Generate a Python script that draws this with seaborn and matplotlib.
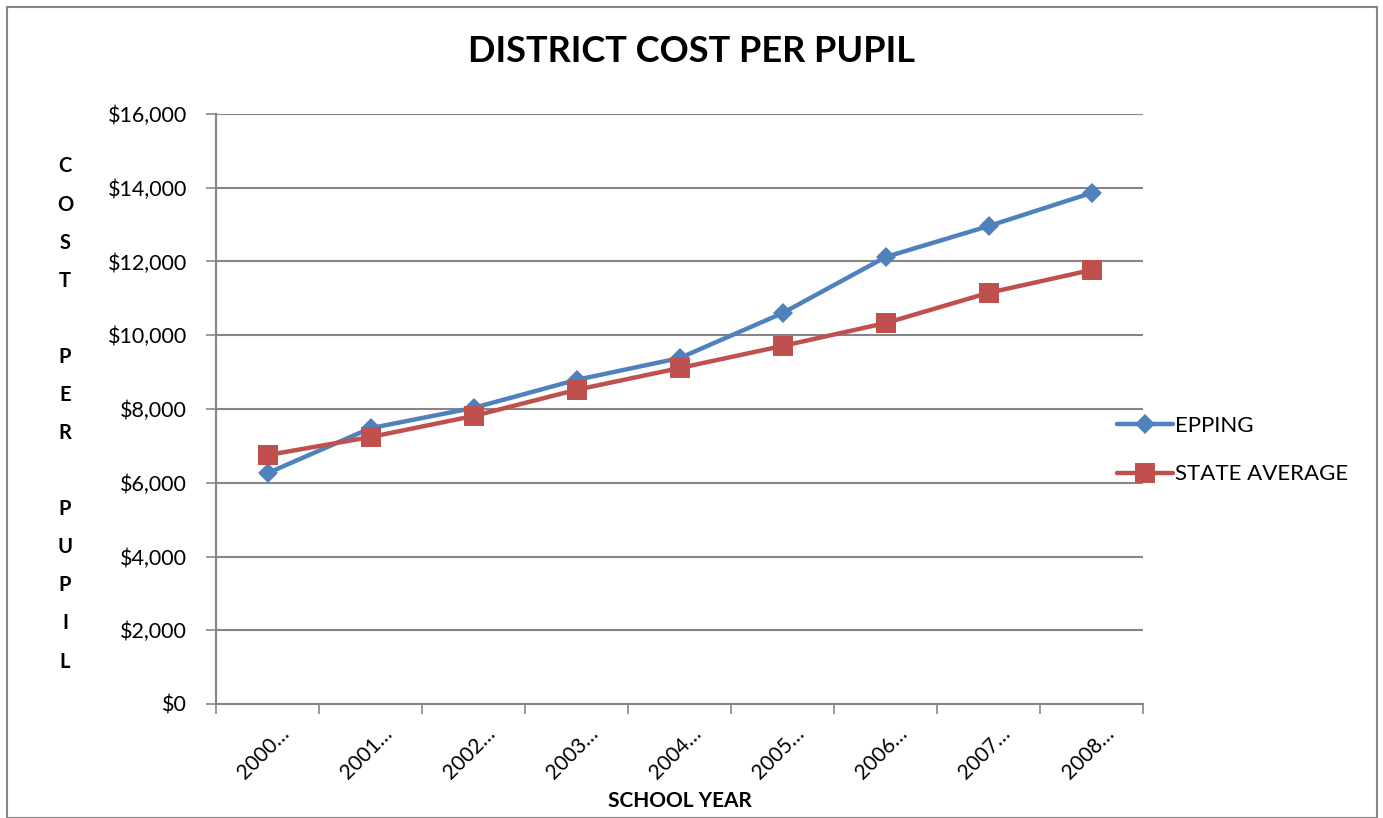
import pandas as pd
import matplotlib.pyplot as plt
import matplotlib.ticker as mticker
import matplotlib.transforms as mtransforms
from matplotlib.patches import Rectangle
import seaborn as sns

plt.switch_backend('Agg')

# dados
anos = ['2000…', '2001…', '2002…', '2003…', '2004…', '2005…', '2006…', '2007…', '2008…']
epping = [6260, 7480, 8030, 8790, 9380, 10600, 12120, 12960, 13860]
media_estadual = [6750, 7240, 7810, 8520, 9110, 9710, 10330, 11150, 11770]

df = pd.DataFrame({
    'ano': anos * 2,
    'custo': epping + media_estadual,
    'serie': ['EPPING'] * len(anos) + ['STATE AVERAGE'] * len(anos),
})
df['x'] = list(range(len(anos))) * 2

sns.set_style('white')
plt.rcParams['font.family'] = ['Lato', 'DejaVu Sans']
plt.rcParams['text.color'] = 'black'
plt.rcParams['xtick.labelcolor'] = 'black'
plt.rcParams['ytick.labelcolor'] = 'black'
plt.rcParams['axes.labelcolor'] = 'black'

fig = plt.figure(figsize=(13.83, 8.18), dpi=100)
ax = fig.add_axes([216 / 1383, 1 - 704 / 818, (1143 - 216) / 1383, (704 - 114) / 818])

sns.lineplot(data=df, x='x', y='custo', hue='serie', style='serie',
             palette={'EPPING': '#4F81BD', 'STATE AVERAGE': '#C0504D'},
             markers={'EPPING': 'D', 'STATE AVERAGE': 's'},
             dashes=False, linewidth=3.2, markeredgewidth=0, ax=ax)
for ln in ax.lines:
    if ln.get_marker() == 'D':
        ln.set_markersize(10.5)
    else:
        ln.set_markersize(14)

ax.set_xlim(-0.5, len(anos) - 0.5)
ax.set_ylim(0, 16000)
ax.yaxis.set_major_locator(mticker.MultipleLocator(2000))
ax.yaxis.set_major_formatter(mticker.FuncFormatter(lambda v, p: '${:,.0f}'.format(v)))
ax.grid(axis='y', color='#868686', linewidth=1.5)
ax.set_axisbelow(True)

# marcas do eixo x entre as categorias
ax.set_xticks(range(len(anos)))
ax.set_xticklabels(anos, rotation=45, ha='right', rotation_mode='anchor', fontsize=15)
ax.set_xticks([i - 0.5 for i in range(len(anos) + 1)], minor=True)
ax.tick_params(axis='x', which='major', length=0, pad=14)
ax.tick_params(axis='x', which='minor', length=7, color='#868686', width=1.2, direction='out', bottom=True)
ax.tick_params(axis='y', length=7, color='#868686', width=1.2, direction='out', left=True, labelsize=15.5, pad=14)
desloc = mtransforms.ScaledTranslation(0.12, 0, fig.dpi_scale_trans)
for lab in ax.get_xticklabels():
    lab.set_transform(lab.get_transform() + desloc)

for lado in ['top', 'right']:
    ax.spines[lado].set_visible(False)
for lado in ['left', 'bottom']:
    ax.spines[lado].set_color('#868686')
    ax.spines[lado].set_linewidth(1.5)

ax.set_xlabel('SCHOOL YEAR', fontsize=15, fontweight='bold', labelpad=6)
ax.set_ylabel('')
fig.text(65 / 1383, 1 - 414 / 818, '\n'.join('COST PER PUPIL'), ha='center', va='center',
         fontsize=14.5, fontweight='bold', linespacing=2.13)

fig.text(692 / 1383, 1 - 52 / 818, 'DISTRICT COST PER PUPIL', ha='center', va='center',
         fontsize=26, fontweight='bold')

leg = ax.legend(loc='center left', bbox_to_anchor=(1097 / 1383, 1 - 450 / 818),
                bbox_transform=fig.transFigure, frameon=False, fontsize=16,
                handlelength=2.5, handletextpad=0.1, labelspacing=1.3, title=None)

fig.patches.append(Rectangle((7 / 1383, 0), 1370 / 1383, 1 - 7 / 818, transform=fig.transFigure,
                             fill=False, edgecolor='#868686', linewidth=1.5))

plt.savefig('out.png', dpi=100)
plt.close()
